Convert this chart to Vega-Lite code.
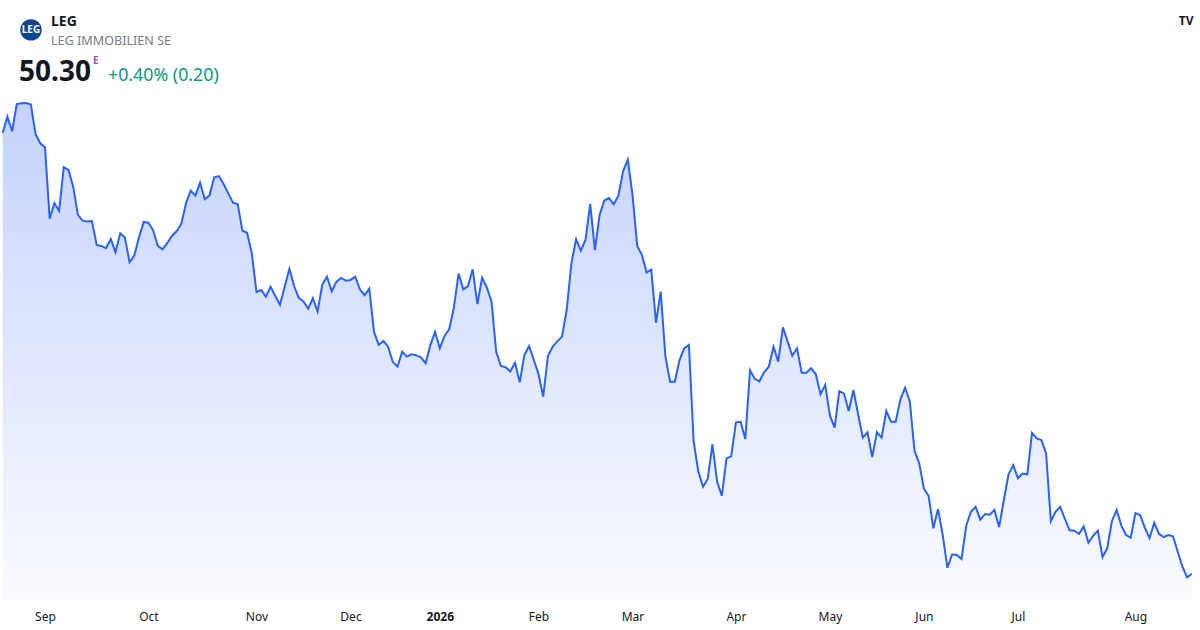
{
  "$schema": "https://vega.github.io/schema/vega-lite/v6.json",
  "width": 1200,
  "height": 600,
  "autosize": {"type": "none"},
  "padding": {"left": 0, "top": 0, "right": 0, "bottom": 30},
  "background": "#ffffff",
  "config": {"view": {"stroke": null}, "font": "Noto Sans"},
  "title": {
    "text": "LEG",
    "subtitle": "LEG IMMOBILIEN SE",
    "anchor": "start",
    "frame": "group",
    "orient": "top",
    "offset": -48,
    "dx": 51,
    "font": "Noto Sans",
    "fontSize": 14,
    "fontWeight": "bold",
    "color": "#131722",
    "subtitleFont": "Noto Sans",
    "subtitleFontSize": 12.6,
    "subtitleColor": "#787b86",
    "subtitlePadding": 6
  },
  "data": {
    "values": [
      {"day": 0, "close": 74.80}, {"day": 1, "close": 75.69}, {"day": 2, "close": 74.88}, {"day": 3, "close": 76.39},
      {"day": 4, "close": 76.43}, {"day": 5, "close": 76.45}, {"day": 6, "close": 76.36}, {"day": 7, "close": 74.71},
      {"day": 8, "close": 74.21}, {"day": 9, "close": 73.99}, {"day": 10, "close": 70.02}, {"day": 11, "close": 70.88},
      {"day": 12, "close": 70.45}, {"day": 13, "close": 72.88}, {"day": 14, "close": 72.73}, {"day": 15, "close": 71.80},
      {"day": 16, "close": 70.23}, {"day": 17, "close": 69.91}, {"day": 18, "close": 69.86}, {"day": 19, "close": 69.89},
      {"day": 20, "close": 68.56}, {"day": 21, "close": 68.51}, {"day": 22, "close": 68.38}, {"day": 23, "close": 68.89},
      {"day": 24, "close": 68.16}, {"day": 25, "close": 69.21}, {"day": 26, "close": 68.97}, {"day": 27, "close": 67.60},
      {"day": 28, "close": 67.97}, {"day": 29, "close": 68.99}, {"day": 30, "close": 69.84}, {"day": 31, "close": 69.80},
      {"day": 32, "close": 69.39}, {"day": 33, "close": 68.51}, {"day": 34, "close": 68.32}, {"day": 35, "close": 68.66},
      {"day": 36, "close": 69.06}, {"day": 37, "close": 69.32}, {"day": 38, "close": 69.73}, {"day": 39, "close": 70.88},
      {"day": 40, "close": 71.58}, {"day": 41, "close": 71.30}, {"day": 42, "close": 72.02}, {"day": 43, "close": 71.10},
      {"day": 44, "close": 71.32}, {"day": 45, "close": 72.32}, {"day": 46, "close": 72.39}, {"day": 47, "close": 71.95},
      {"day": 48, "close": 71.43}, {"day": 49, "close": 70.91}, {"day": 50, "close": 70.84}, {"day": 51, "close": 69.36},
      {"day": 52, "close": 69.24}, {"day": 53, "close": 68.10}, {"day": 54, "close": 65.95}, {"day": 55, "close": 66.06},
      {"day": 56, "close": 65.69}, {"day": 57, "close": 66.24}, {"day": 58, "close": 65.73}, {"day": 59, "close": 65.24},
      {"day": 60, "close": 66.24}, {"day": 61, "close": 67.24}, {"day": 62, "close": 66.28}, {"day": 63, "close": 65.62},
      {"day": 64, "close": 65.43}, {"day": 65, "close": 65.02}, {"day": 66, "close": 65.60}, {"day": 67, "close": 64.86},
      {"day": 68, "close": 66.36}, {"day": 69, "close": 66.80}, {"day": 70, "close": 65.99}, {"day": 71, "close": 66.51},
      {"day": 72, "close": 66.73}, {"day": 73, "close": 66.58}, {"day": 74, "close": 66.62}, {"day": 75, "close": 66.80},
      {"day": 76, "close": 66.10}, {"day": 77, "close": 65.77}, {"day": 78, "close": 66.13}, {"day": 79, "close": 63.73},
      {"day": 80, "close": 63.01}, {"day": 81, "close": 63.23}, {"day": 82, "close": 62.91}, {"day": 83, "close": 62.06},
      {"day": 84, "close": 61.80}, {"day": 85, "close": 62.63}, {"day": 86, "close": 62.36}, {"day": 87, "close": 62.49},
      {"day": 88, "close": 62.43}, {"day": 89, "close": 62.32}, {"day": 90, "close": 61.99}, {"day": 91, "close": 63.01},
      {"day": 92, "close": 63.73}, {"day": 93, "close": 62.82}, {"day": 94, "close": 63.51}, {"day": 95, "close": 63.88},
      {"day": 96, "close": 65.09}, {"day": 97, "close": 66.97}, {"day": 98, "close": 66.10}, {"day": 99, "close": 66.28},
      {"day": 100, "close": 67.21}, {"day": 101, "close": 65.28}, {"day": 102, "close": 66.74}, {"day": 103, "close": 66.21},
      {"day": 104, "close": 65.43}, {"day": 105, "close": 62.63}, {"day": 106, "close": 61.84}, {"day": 107, "close": 61.77},
      {"day": 108, "close": 61.54}, {"day": 109, "close": 62.02}, {"day": 110, "close": 60.93}, {"day": 111, "close": 62.45},
      {"day": 112, "close": 62.95}, {"day": 113, "close": 62.17}, {"day": 114, "close": 61.39}, {"day": 115, "close": 60.13},
      {"day": 116, "close": 62.39}, {"day": 117, "close": 62.91}, {"day": 118, "close": 63.21}, {"day": 119, "close": 63.47},
      {"day": 120, "close": 64.95}, {"day": 121, "close": 67.54}, {"day": 122, "close": 68.88}, {"day": 123, "close": 68.24},
      {"day": 124, "close": 68.84}, {"day": 125, "close": 70.84}, {"day": 126, "close": 68.28}, {"day": 127, "close": 70.23},
      {"day": 128, "close": 71.03}, {"day": 129, "close": 71.17}, {"day": 130, "close": 70.82}, {"day": 131, "close": 71.30},
      {"day": 132, "close": 72.67}, {"day": 133, "close": 73.30}, {"day": 134, "close": 71.34}, {"day": 135, "close": 68.51},
      {"day": 136, "close": 68.01}, {"day": 137, "close": 67.04}, {"day": 138, "close": 67.19}, {"day": 139, "close": 64.23},
      {"day": 140, "close": 65.97}, {"day": 141, "close": 62.36}, {"day": 142, "close": 60.97}, {"day": 143, "close": 60.97},
      {"day": 144, "close": 62.17}, {"day": 145, "close": 62.82}, {"day": 146, "close": 63.01}, {"day": 147, "close": 57.67},
      {"day": 148, "close": 55.97}, {"day": 149, "close": 55.13}, {"day": 150, "close": 55.56}, {"day": 151, "close": 57.49},
      {"day": 152, "close": 55.41}, {"day": 153, "close": 54.63}, {"day": 154, "close": 56.71}, {"day": 155, "close": 56.82},
      {"day": 156, "close": 58.71}, {"day": 157, "close": 58.74}, {"day": 158, "close": 57.78}, {"day": 159, "close": 61.60},
      {"day": 160, "close": 61.13}, {"day": 161, "close": 60.99}, {"day": 162, "close": 61.49}, {"day": 163, "close": 61.80},
      {"day": 164, "close": 62.91}, {"day": 165, "close": 62.08}, {"day": 166, "close": 63.99}, {"day": 167, "close": 63.19},
      {"day": 168, "close": 62.41}, {"day": 169, "close": 62.82}, {"day": 170, "close": 61.47}, {"day": 171, "close": 61.47},
      {"day": 172, "close": 61.71}, {"day": 173, "close": 61.38}, {"day": 174, "close": 60.27}, {"day": 175, "close": 60.78},
      {"day": 176, "close": 59.08}, {"day": 177, "close": 58.41}, {"day": 178, "close": 60.45}, {"day": 179, "close": 60.30},
      {"day": 180, "close": 59.34}, {"day": 181, "close": 60.51}, {"day": 182, "close": 59.16}, {"day": 183, "close": 57.86},
      {"day": 184, "close": 58.16}, {"day": 185, "close": 56.78}, {"day": 186, "close": 58.16}, {"day": 187, "close": 57.86},
      {"day": 188, "close": 59.34}, {"day": 189, "close": 58.74}, {"day": 190, "close": 58.74}, {"day": 191, "close": 59.99},
      {"day": 192, "close": 60.63}, {"day": 193, "close": 59.87}, {"day": 194, "close": 57.12}, {"day": 195, "close": 56.43},
      {"day": 196, "close": 55.01}, {"day": 197, "close": 54.63}, {"day": 198, "close": 52.82}, {"day": 199, "close": 53.89},
      {"day": 200, "close": 52.45}, {"day": 201, "close": 50.63}, {"day": 202, "close": 51.38}, {"day": 203, "close": 51.34},
      {"day": 204, "close": 51.12}, {"day": 205, "close": 52.97}, {"day": 206, "close": 53.74}, {"day": 207, "close": 54.01},
      {"day": 208, "close": 53.30}, {"day": 209, "close": 53.62}, {"day": 210, "close": 53.58}, {"day": 211, "close": 53.84},
      {"day": 212, "close": 52.89}, {"day": 213, "close": 54.38}, {"day": 214, "close": 55.82}, {"day": 215, "close": 56.32},
      {"day": 216, "close": 55.60}, {"day": 217, "close": 55.86}, {"day": 218, "close": 55.82}, {"day": 219, "close": 58.12},
      {"day": 220, "close": 57.82}, {"day": 221, "close": 57.73}, {"day": 222, "close": 56.97}, {"day": 223, "close": 53.21},
      {"day": 224, "close": 53.74}, {"day": 225, "close": 54.01}, {"day": 226, "close": 53.34}, {"day": 227, "close": 52.71},
      {"day": 228, "close": 52.69}, {"day": 229, "close": 52.52}, {"day": 230, "close": 52.93}, {"day": 231, "close": 52.02},
      {"day": 232, "close": 52.41}, {"day": 233, "close": 52.69}, {"day": 234, "close": 51.23}, {"day": 235, "close": 51.71},
      {"day": 236, "close": 53.23}, {"day": 237, "close": 53.84}, {"day": 238, "close": 52.97}, {"day": 239, "close": 52.45},
      {"day": 240, "close": 52.30}, {"day": 241, "close": 53.67}, {"day": 242, "close": 53.56}, {"day": 243, "close": 52.86},
      {"day": 244, "close": 52.27}, {"day": 245, "close": 53.12}, {"day": 246, "close": 52.52}, {"day": 247, "close": 52.34},
      {"day": 248, "close": 52.45}, {"day": 249, "close": 52.38}, {"day": 250, "close": 51.52}, {"day": 251, "close": 50.69},
      {"day": 252, "close": 50.10}, {"day": 253, "close": 50.30}
    ]
  },
  "layer": [
    {
      "mark": {
        "type": "area",
        "clip": true,
        "opacity": 1,
        "fillOpacity": 1,
        "line": {"color": "#2962ff", "strokeWidth": 2},
        "color": {
          "gradient": "linear",
          "x1": 0, "y1": 0, "x2": 0, "y2": 1,
          "stops": [
            {"offset": 0, "color": "#c4d2fd"},
            {"offset": 1, "color": "#fafbff"}
          ]
        }
      },
      "encoding": {
        "x": {
          "field": "day",
          "type": "quantitative",
          "scale": {"domain": [-0.57, 254.74], "nice": false, "zero": false},
          "axis": {
            "title": null,
            "values": [9, 31, 54, 74, 93, 114, 134, 156, 176, 196, 216, 241],
            "labelExpr": "['Sep','Oct','Nov','Dec','2026','Feb','Mar','Apr','May','Jun','Jul','Aug'][indexof([9,31,54,74,93,114,134,156,176,196,216,241], datum.value)]",
            "domain": false,
            "ticks": false,
            "grid": false,
            "labelFont": "Noto Sans",
            "labelFontSize": 12,
            "labelColor": "#131722",
            "labelPadding": 11,
            "labelFlush": false,
            "labelOverlap": false,
            "labelFontWeight": {"condition": {"test": "datum.value == 93", "value": "bold"}, "value": "normal"}
          }
        },
        "y": {
          "field": "close",
          "type": "quantitative",
          "scale": {"domain": [48.84, 82.17], "nice": false, "zero": false},
          "axis": null
        },
        "y2": {"datum": 48.84}
      }
    },
    {
      "data": {"values": [{"logo": "LEG"}]},
      "mark": {"type": "point", "shape": "circle", "filled": true, "size": 460, "color": "#08478f", "opacity": 1},
      "encoding": {
        "x": {"datum": 6.02, "type": "quantitative"},
        "y": {"datum": 80.51, "type": "quantitative"}
      }
    },
    {
      "data": {"values": [{"logo": "LEG"}]},
      "mark": {"type": "text", "align": "center", "baseline": "middle", "font": "Noto Sans", "fontSize": 10, "fontWeight": "bold", "color": "#ffffff"},
      "encoding": {
        "x": {"datum": 6.02, "type": "quantitative"},
        "y": {"datum": 80.51, "type": "quantitative"},
        "text": {"field": "logo"}
      }
    },
    {
      "data": {"values": [{"price": "50.30"}]},
      "mark": {"type": "text", "align": "left", "baseline": "middle", "font": "Noto Sans", "fontSize": 28, "fontWeight": "bold", "color": "#131722"},
      "encoding": {
        "x": {"datum": 3.47, "type": "quantitative"},
        "y": {"datum": 78.10, "type": "quantitative"},
        "text": {"field": "price"}
      }
    },
    {
      "data": {"values": [{"session": "E"}]},
      "mark": {"type": "text", "align": "left", "baseline": "middle", "font": "Noto Sans", "fontSize": 10, "fontWeight": "bold", "color": "#ab47bc"},
      "encoding": {
        "x": {"datum": 19.2, "type": "quantitative"},
        "y": {"datum": 78.76, "type": "quantitative"},
        "text": {"field": "session"}
      }
    },
    {
      "data": {"values": [{"change": "+0.40% (0.20)"}]},
      "mark": {"type": "text", "align": "left", "baseline": "middle", "font": "Noto Sans", "fontSize": 17.8, "color": "#089981"},
      "encoding": {
        "x": {"datum": 22.4, "type": "quantitative"},
        "y": {"datum": 77.93, "type": "quantitative"},
        "text": {"field": "change"}
      }
    },
    {
      "data": {"values": [{"brand": "TV"}]},
      "mark": {"type": "text", "align": "center", "baseline": "middle", "font": "Noto Sans", "fontSize": 12, "fontWeight": "bold", "color": "#131722"},
      "encoding": {
        "x": {"datum": 251.8, "type": "quantitative"},
        "y": {"datum": 81.0, "type": "quantitative"},
        "text": {"field": "brand"}
      }
    }
  ]
}
